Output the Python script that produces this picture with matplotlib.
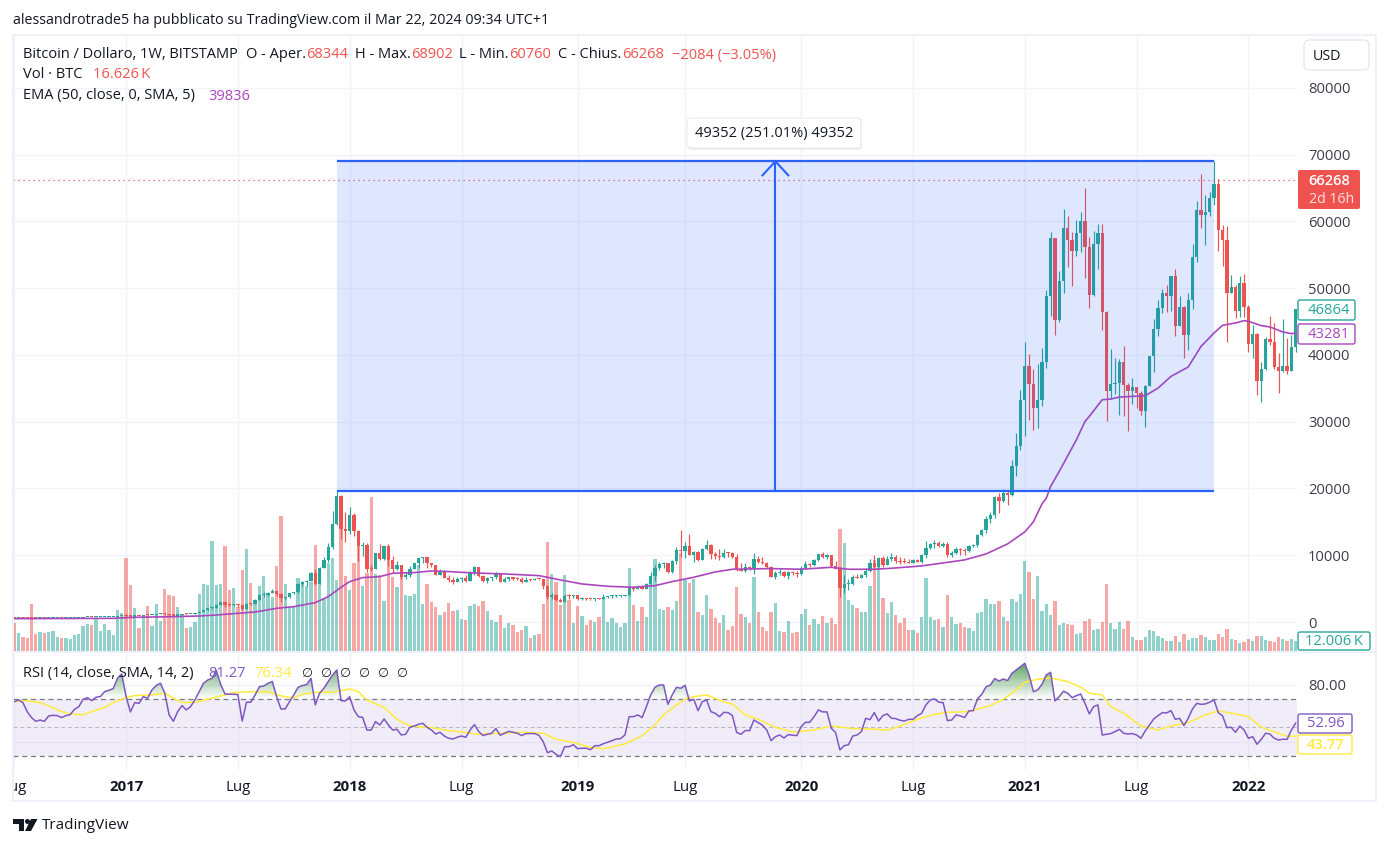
import numpy as np
import matplotlib
matplotlib.use("Agg")
import matplotlib.pyplot as plt
from matplotlib.patches import Rectangle, FancyBboxPatch, Polygon, Circle
from matplotlib.path import Path
from matplotlib.transforms import IdentityTransform, Bbox

plt.rcParams['font.family'] = ['Open Sans', 'DejaVu Sans']

W, H = 1388, 846
UP, DOWN = '#26a69a', '#ef5350'
TXT = '#131722'

# ---------- data (weekly bars) ----------
closes = [650,665,655,625,585,570,580,570,610,625,630,600,615,618,640,655,700,705,700,745,750,765,775,790,895,990,
          900,820,920,915,1010,990,1050,1190,1260,1225,1020,965,1080,1180,1175,1250,1340,1555,1770,2040,2050,2500,2960,2520,2480,2510,2500,1990,2750,2700,3370,4050,4070,4340,4600,4200,3650,3680,4370,4430,5650,6000,6100,7350,5650,8050,9300,11200,14700,18900,
          13900,13700,16000,13600,11400,11500,8000,7950,10300,9400,11400,9300,8000,8600,6700,7000,8000,8900,9600,9800,8800,8500,7100,7600,6650,6300,5950,6400,6650,6200,7550,8300,6900,6150,6550,6700,7300,6000,6500,6700,6450,6400,6000,6300,6250,6450,6400,5400,3700,4050,3300,3050,3950,3850,4050,3500,3600,3500,3450,3550,3500,3800,3850,3870,3900,3950,4050,5150,4900,5300,5000,5750,6900,8150,8700,8800,7500,9150,10800,10600,11450,10050,10500,9300,11000,11550,10200,9900,9700,10350,10300,9800,7800,7700,8200,8150,9450,9050,8800,8250,6800,7350,7550,6900,7500,7400,7250,8150,8700,8600,9300,10200,9700,10050,8400,7900,5150,5700,5750,6700,6650,7050,7600,8800,8200,9550,8550,9400,9800,9200,9000,8950,8900,9300,9050,10050,11150,11700,11900,11450,11700,10000,10300,11000,10750,10700,11400,11600,13100,13800,15500,16000,18700,18200,19400,19050,
          23400,26300,33200,38300,35700,32100,33200,38900,48800,57550,45200,51050,59100,57300,55650,58350,60050,56250,49050,56700,58350,46400,34650,35700,35800,39000,35450,34550,35250,34250,31650,35400,39900,43950,47100,49350,48800,51900,44400,47250,43050,48300,54750,61650,60950,61450,63450,65550,58700,57300,49350,50200,46650,50850,47250,41700,43200,36150,37950,42450,42000,38250,37650,38400,37650,41250,46864]

highs = [680,680,670,660,630,610,600,590,620,640,640,630,620,625,645,660,715,745,745,760,755,780,785,800,900,1000,1150,920,940,930,1030,1060,1070,1200,1290,1330,1250,1060,1100,1210,1220,1260,1350,1620,1850,2100,2300,2650,3000,2950,2800,2700,2700,2430,2900,2850,3450,4200,4450,4480,4950,4650,4280,3800,4410,4480,5880,6170,6300,7500,7880,8200,9700,11800,16600,19800,
         19050,16450,17200,16300,13800,12050,11900,8600,10400,11700,11450,11700,9900,9150,8400,7450,8400,8900,9400,9800,9750,8800,7900,7900,7800,7050,6800,6700,6800,7050,7700,8450,8300,7050,6750,6800,7450,7300,6700,6800,6700,6700,6700,6700,6450,6550,6500,6400,5600,4300,4150,3650,4200,4200,4100,4050,3800,3550,3500,3650,3600,4200,3900,4050,4050,4050,4100,5450,5450,5500,5500,5900,7450,8550,9050,8950,8850,9300,11300,13800,12000,13200,10700,10650,11150,12300,11650,10550,10950,10900,10550,10450,10150,8800,8800,8450,10350,9900,9700,9050,8450,7700,7900,7650,7700,7700,7650,8400,9150,8850,9500,10250,10500,10200,10000,9100,8200,7050,6500,7050,7150,7150,8100,9400,10050,9800,9900,9900,10300,10000,9800,9650,9450,9450,9400,10200,12200,11900,12300,12100,12000,12000,10600,11300,11050,11050,11500,11700,13200,14000,15900,16500,18900,19400,19900,19700,
         24300,28350,34800,42000,40200,37950,38700,41100,49800,58500,57550,52650,61800,60750,58500,60150,61350,64950,57750,58650,59700,59700,46600,40950,39600,39450,41400,35800,36600,35200,34650,35550,39900,45450,48300,49950,50550,51900,52950,48900,47400,49350,56700,63000,67050,63900,64350,69000,66300,59550,59400,52050,50550,51900,52200,47550,44550,43350,39000,42750,45900,44850,40350,45450,42600,43050,46950]

lows = [630,630,640,610,480,560,560,560,565,600,600,590,600,610,615,635,650,695,680,700,725,730,750,770,785,880,750,750,800,880,900,960,980,1040,1180,1000,920,890,930,1060,1110,1160,1220,1310,1550,1720,1900,2050,2480,2220,2350,2400,2300,1850,1970,2570,2700,3320,3800,3950,4300,3950,2960,3500,3620,4150,4350,5400,5400,6200,5500,5800,8100,9000,10900,14500,
        12500,12050,13200,12900,9150,9900,7550,7700,7950,9300,9300,8400,7300,7800,6400,6400,6800,7950,8100,8900,8100,8200,7050,7050,6550,6050,5700,5950,6050,5950,6150,7050,6800,6050,5800,6200,6400,5950,6050,6200,6350,6350,5900,5950,6200,6300,6300,5000,3400,3400,3200,2950,2950,3450,3550,3250,3300,3250,3300,3100,3450,3500,3650,3600,3700,3750,3850,3850,4700,4950,4900,4900,5400,6150,7800,8050,7350,7300,8700,9750,9600,10000,9050,9150,9300,10800,9500,9400,9350,9600,9800,9550,7650,7650,7550,7800,7200,8800,8650,8050,6800,6500,7050,6800,6450,7050,6800,7100,7900,8200,8400,9100,9550,9400,8300,7900,3800,4400,4800,5550,6550,6550,6700,7550,8050,8400,8200,8550,9100,8800,8700,8800,8900,8900,9000,8900,9650,10900,11100,11200,11200,9800,9800,10200,10000,10050,10500,11300,11300,12900,13300,14900,15600,16300,18000,17600,
        18900,21900,25800,27800,30300,28800,29100,32400,38100,45900,43050,45000,49350,53250,50400,54900,55500,51600,47100,48900,52950,43800,30150,33400,34200,31050,30900,28650,32700,32100,31050,29250,35300,37500,42900,46350,46500,46650,42900,44400,39600,40800,46950,54000,59100,56550,60750,62400,55650,53400,42000,49350,45600,45750,45750,40500,39600,34050,33000,37800,41550,37950,34350,37500,37200,37650,40500]

volumes_k = [33.6,21.6,16.8,15.6,56.4,20.4,22.8,21.6,22.8,24,16.8,15.6,15.6,14.4,19.2,20.4,30,32.4,31.2,39.6,24,32.4,25.2,19.2,49.2,45.6,111.6,79.2,51.6,27.6,42,54,30,56.4,36,74.4,67.2,66,52.8,43.2,27.6,28.8,34.8,68.4,80.4,79.2,132,79.2,80.4,126,73.2,75.6,53,97.2,122.4,81.6,61.2,78,90,67,65,102,162,80.4,53,53,87.6,81,78,82.8,127.2,80.4,64,105.6,111.6,85.2,157.2,90,73.2,105,133,78,93,184.8,92.4,91,60,111,89,76.8,97,67.2,66,68.4,103,56.4,80.4,58.8,52.8,
             43.2,46.8,57.6,48,49.2,38.4,37.2,54,56.4,54,60,48,37.2,34.8,43.2,27.6,33.6,31.2,22.8,25.2,30,15.6,19.2,20.4,56.4,130.8,92.4,82.8,55.2,91.2,61.2,33.6,54,42,31.2,37.2,34.8,40.8,63.6,34.8,39.6,33.6,28.8,33.6,99.6,55.2,36,52.8,40.8,87.6,110.4,50.4,49.2,52.8,49.2,60,117,85.2,81.6,86.4,46.8,43.2,67.2,50.4,39.6,33.6,43.2,25.2,30,76.8,44.4,40.8,33.6,88.8,46.8,28.8,24,46.8,57.6,24,22.8,36,21.6,22.8,44.4,50.4,31.2,38.4,32.4,42,33.6,39.6,32.4,146.4,129.6,61.2,55.2,51.6,46.8,46.4,78,109.2,100.4,
             63.6,45.6,58.8,43.2,33.6,39.6,25.2,25.2,21.6,40.8,87.6,40.8,37.2,38.4,28.8,67.2,40.8,32.4,33.6,28.8,27.6,24,45.6,46.8,62.4,56.4,56.4,60,40.8,36,62.4,58.8,68.4,108,94.8,62.4,90,48,56.4,43.2,60,31.2,33.6,32.4,31.2,20.4,21.6,36,38.4,25.2,26.4,34.8,80.4,33.6,26.4,34.8,26.4,36,16.8,13.2,13.2,16.8,25.2,24,18,15.6,12,12,18,10.8,20.4,13.2,15.6,15.6,19.2,16.8,13.2,13.2,20.4,16.8,26.4,14.4,13.2,9.6,10.8,14.4,12,18,18,13.2,12,10.8,16.8,14.4,12,14.4,12.006]

rsi = [68,69.2,67.3,61,56.8,54.2,55.1,54.2,58,58.4,58.2,56.8,58.2,58.9,62.6,64.5,69.7,70.8,68.7,71.1,71.5,75,76,77.1,84.4,87.4,71.5,60.8,67.3,66.8,71.5,70.4,76.2,79.3,80.9,73.9,58.7,54.2,61,65.2,62.2,64.5,69.2,75,80.9,83.2,84.4,89.8,80,73.4,73.2,73.2,73,54.4,67.6,67.6,72.7,78.5,79,80.9,82.1,71.5,62.9,62.9,68,72.7,78.1,79.3,80,84.4,65.7,73.9,77.4,82.1,86.7,90.2,68.7,68.5,71.5,62.2,57.5,57,48.1,48.1,54,51.6,55.9,51.6,48.1,48.6,44.6,45.1,50,50.9,52.1,52.8,50,48.1,45.3,46.5,43.9,42.3,41.8,43,
       43.9,43,48.1,51.9,47,44.2,45.1,45.8,49.1,44.4,45.8,47.2,46.5,45.8,44.2,45.6,45.6,45.6,44.4,39.9,32.2,33.4,31,29.4,36.4,36.4,37.8,35,35.3,35.3,34.3,37.1,37.1,38.5,39.5,40.6,41.8,42,44.6,57.5,57.5,58.7,56.8,64.5,72.7,78.1,79.7,79.7,66.1,72.7,78.1,77.4,79.5,68.5,69.7,61.7,68,69.2,61,59.8,57.5,60.5,60.3,58.2,46.3,45.1,47.7,47.7,55.1,53.3,51.4,48.1,40.6,43.4,44.6,42.5,44.9,44.4,44.2,50.5,53.5,53.5,57.5,62.2,60.8,60.8,49.3,46.3,34.1,37.1,37.8,43.9,44.6,47,56.3,55.4,60.3,54.4,58.2,59.4,56.3,56.1,54.9,54.4,55.6,55.6,58.2,
       59.8,65.7,69.2,69.9,67.6,67.3,54.7,55.1,58.7,58,56.8,61.5,61.7,69.9,73.2,78.5,79.7,84.2,82.5,83.9,82.8,87.9,90.2,92.6,94.9,86.7,75,76.2,80.2,86.7,88.6,68.5,71.5,75.3,73.9,70.8,72.2,73.4,66.8,59.4,64.5,65.7,44.6,45.1,45.6,47,48.6,45.8,45.3,45.6,44.6,42.3,47.4,51.6,55.9,58.2,60.3,60.1,61.7,55.6,56.3,51.2,56.3,62.9,66.8,66.1,66.4,67.6,69.2,60.3,58,49.8,50,46.5,50.9,48.1,42.3,43.4,38.1,41.6,45.8,45.3,42.3,41.1,41.6,41.6,48.1,52.96]

ema_weeks = [0,23,28,37,43,47,52,56,61,65,70,73,76,78,81,85,88,93,97,101,107,114,122,127,132,138,144,149,153,158,163,167,176,183,190,194,200,204,211,221,226,231,235,237,239,240,241,243,247,249,250,253,255,257,263,266,269,273,276,279,281,284,286,287,290,292,295,297,298]
ema_vals = [500,550,700,800,900,1050,1300,1500,2050,2300,2900,3800,5200,6050,6650,6800,7300,7400,7650,7550,7350,7200,6950,6300,5700,5350,5200,5450,6050,6700,7500,7900,8000,7900,8200,7900,7900,8050,8400,9300,10200,11700,13500,15000,17700,18550,20300,22550,27300,30050,30800,33300,33400,33700,33900,35050,36800,38200,41300,43300,44450,44800,45150,45050,44400,44200,43450,43200,43281]

rsima_weeks = [0,3,6,8,11,13,16,18,21,23,26,28,32,35,37,39,42,45,48,51,55,59,62,65,67,70,74,78,80,82,86,89,92,97,100,104,108,113,118,123,126,130,134,137,142,146,149,151,153,156,158,161,165,167,170,173,177,181,186,190,195,200,203,206,210,214,217,222,227,230,233,235,238,241,245,248,250,253,255,258,262,266,269,273,277,280,284,287,290,294,296,298]
rsima_vals = [68,68.7,67.3,65,61,59.4,58.7,61,64,67.3,71,72.2,72.7,73.9,70.4,67.3,67.6,69.7,72,74.4,75,75,72,70.6,73.2,74.6,74.6,76.9,75,69.2,64,55.6,50.9,49.8,48.1,46.7,45.1,45.8,46.5,45.8,41.6,39.5,35.8,35,38.3,44.1,51.6,58.7,63.3,70,71.5,72.7,67.8,66.4,58.7,55.6,50,46.7,48.1,50.9,49.1,48.8,47.9,50.9,55.6,59.1,60.5,61,65.2,69.7,76.2,81.6,83.7,84.7,82.1,78.1,73.9,72.7,64.5,59.8,50.9,48.1,50.9,53.3,58.7,61.5,59.4,57.5,50,45.8,43.7,43.77]

year_weeks = [0,26,52,78,104,131,156,183,209,235,261,287]
year_labels = ['Lug','2017','Lug','2018','Lug','2019','Lug','2020','Lug','2021','Lug','2022']
price_ticks = [0,10000,20000,30000,40000,50000,60000,70000,80000]
range_low, range_high = 19666, 69018
range_start, range_end = 75, 279
arrow_week = 177
last_close = 66268
rsi_mid = [30, 50, 70]

n = len(closes)
if not (n == len(highs) == len(lows) == len(volumes_k) == len(rsi) == 299 and len(ema_weeks) == len(ema_vals) and len(rsima_weeks) == len(rsima_vals)):
    raise SystemExit(f"LEN {n} {len(highs)} {len(lows)} {len(volumes_k)} {len(rsi)} {len(ema_weeks)} {len(ema_vals)} {len(rsima_weeks)} {len(rsima_vals)}")

opens = np.array([660] + closes[:-1], float)
c = np.array(closes, float)
hi = np.maximum.reduce([np.array(highs, float), c, opens])
lo = np.minimum.reduce([np.array(lows, float), c, opens])
x = np.arange(n)
colors = np.where(c >= opens, UP, DOWN)

# ---------- layout helpers ----------
fig = plt.figure(figsize=(W/100, H/100), dpi=100, facecolor='white')
def axes_px(x0, y0, x1, y1, **kw):
    return fig.add_axes([x0/W, 1-y1/H, (x1-x0)/W, (y1-y0)/H], **kw)
def ftext(px, py, s, **kw):
    kw.setdefault('fontsize', 10.5); kw.setdefault('color', TXT); kw.setdefault('va', 'center')
    return fig.text(px/W, 1-py/H, s, zorder=20, **kw)
ID = IdentityTransform()
def box(x0, y0, x1, y1, fc='white', ec='none', lw=1.0, r=2, z=15):
    p = FancyBboxPatch((x0, H-y1), x1-x0, y1-y0, boxstyle=f'round,pad=0,rounding_size={r}',
                       fc=fc, ec=ec, lw=lw, transform=ID, zorder=z)
    fig.add_artist(p); return p

GRID = '#f0f3fa'
xlim = ((13-14.3)/4.3, (1297-14.3)/4.3)
price_ylim = ((622-651)/6.675*1000, (622-35)/6.675*1000)

# grid axes (lowest layer)
ax_g = axes_px(13, 35, 1297, 651)
ax_g.set_zorder(0); ax_g.set_xlim(xlim); ax_g.set_ylim(price_ylim)
for s in ax_g.spines.values(): s.set_visible(False)
ax_g.set_xticks(year_weeks, []); ax_g.set_yticks(price_ticks, [])
ax_g.tick_params(length=0)
ax_g.grid(True, color=GRID, lw=1.0)

# volume axes
ax_v = axes_px(13, 35, 1297, 651)
ax_v.set_xlim(xlim); ax_v.set_ylim(0, 616*1.2)
ax_v.axis('off'); ax_v.set_zorder(1)
ax_v.bar(x, volumes_k, width=0.76, color=colors, alpha=0.5, linewidth=0)

# price axes
ax = axes_px(13, 35, 1297, 651)
ax.set_zorder(2); ax.patch.set_alpha(0)
ax.set_xlim(xlim)
ax.set_ylim(price_ylim)
for s in ax.spines.values(): s.set_visible(False)
ax.yaxis.tick_right()
ax.set_yticks(price_ticks, [str(t) for t in price_ticks], fontsize=10.6, color='#3a3e4a')
ax.set_xticks([])
ax.tick_params(length=0, axis='y', pad=8)

ax.vlines(x, lo, hi, colors=colors, lw=0.85, zorder=3)
ax.bar(x, np.maximum(np.abs(c-opens), 160), bottom=np.minimum(c, opens), width=0.76, color=colors, linewidth=0, zorder=4)
ax.plot(ema_weeks, ema_vals, color='#ab47bc', lw=1.2, zorder=5, solid_joinstyle='round')
ax.axhline(last_close, color=DOWN, lw=0.9, ls=(0, (1, 3)), zorder=5)

# price range tool
ax.add_patch(Rectangle((range_start, range_low), range_end-range_start, range_high-range_low,
                       fc='#2962ff', alpha=0.15, ec='none', zorder=6))
ax.plot([range_start, range_end], [range_low]*2, color='#2962ff', lw=1.6, zorder=7, solid_capstyle='butt')
ax.plot([range_start, range_end], [range_high]*2, color='#2962ff', lw=1.6, zorder=7, solid_capstyle='butt')
ax.plot([arrow_week]*2, [range_low, range_high], color='#2962ff', lw=1.5, zorder=7)
ax.plot([arrow_week-3, arrow_week, arrow_week+3], [range_high-2100, range_high, range_high-2100],
        color='#2962ff', lw=1.5, zorder=7)

# RSI axes
ar = axes_px(13, 653, 1297, 770)
ar.set_zorder(3); ar.set_facecolor('white')
ar.set_xlim(xlim)
rsi_ylim = (50-(770-727.3)/1.425, 50+(727.3-653)/1.425)
ar.set_ylim(rsi_ylim)
for s in ar.spines.values(): s.set_visible(False)
ar.set_axisbelow(True)
ar.yaxis.tick_right()
ar.set_yticks([40, 80], ['', '80.00'], fontsize=10.6, color='#3a3e4a')
ar.set_xticks(year_weeks, year_labels, fontsize=10.8)
ar.tick_params(length=0, axis='y', pad=8)
ar.tick_params(length=0, axis='x', pad=7, colors=TXT)
ar.grid(True, color=GRID, lw=1.0)
clip = Bbox([[13, 0], [W, H]])
for lab, t in zip(ar.get_xticklabels(), year_labels):
    if t.isdigit():
        lab.set_fontweight('bold')
    lab.set_clip_box(clip); lab.set_clip_on(True)
ar.axhspan(rsi_mid[0], rsi_mid[2], color='#7e57c2', alpha=0.1, lw=0, zorder=1)
ar.axhline(70, color='#787b86', lw=0.9, ls=(0, (4, 3)), zorder=2)
ar.axhline(30, color='#787b86', lw=0.9, ls=(0, (4, 3)), zorder=2)
ar.axhline(50, color='#787b86', lw=0.7, alpha=0.5, ls=(0, (4, 3)), zorder=2)
# overbought gradient
r = np.array(rsi)
grad = np.zeros((100, 2, 4))
grad[..., :3] = matplotlib.colors.to_rgb('#388e3c')
grad[..., 3] = np.linspace(0.85, 0.0, 100)[:, None]
poly_fill = ar.fill_between(x, 70, r, where=r > 70, interpolate=True, color='none', lw=0)
im = ar.imshow(grad, extent=[xlim[0], xlim[1], 70, 96], aspect='auto', zorder=2.5, interpolation='bilinear')
ar.set_xlim(xlim); ar.set_ylim(rsi_ylim)
verts, codes = [], []
for p in poly_fill.get_paths():
    verts.extend(p.vertices.tolist()); codes.extend(p.codes.tolist())
im.set_clip_path(Path(verts, codes), transform=ar.transData)
ar.plot(rsima_weeks, rsima_vals, color='#ffeb3b', lw=1.1, zorder=3)
ar.plot(x, rsi, color='#7e57c2', lw=1.1, zorder=4)

# ---------- frame ----------
fc = '#eef1f8'
for rect in [(12, H-802, 1365, 2), (12, H-36, 1365, 2), (12, H-802, 2, 768), (1375, H-802, 2, 768), (12, H-653, 1365, 2)]:
    fig.add_artist(Rectangle(rect[:2], rect[2], rect[3], fc=fc, ec='none', transform=ID, zorder=14))

# ---------- header texts ----------
ftext(13, 20, 'alessandrotrade5 ha pubblicato su TradingView.com il Mar 22, 2024 09:34 UTC+1', fontsize=10.3)
for px_, s, col in [(23, 'Bitcoin / Dollaro, 1W, BITSTAMP', TXT), (246, 'O - Aper.', TXT), (306, '68344', DOWN),
                    (355, 'H - Max.', TXT), (411, '68902', DOWN), (459, 'L - Min.', TXT), (509, '60760', DOWN),
                    (558, 'C - Chius.', TXT), (622, '66268', DOWN), (672, '\u22122084 (\u22123.05%)', DOWN)]:
    ftext(px_, 55, s, color=col)
ftext(23, 75, 'Vol \u00b7 BTC'); ftext(93, 75, '16.626\u2009K', color=DOWN)
ftext(23, 96, 'EMA (50, close, 0, SMA, 5)'); ftext(208, 96, '39836', color='#ab47bc')
ftext(23, 673, 'RSI (14, close, SMA, 14, 2)')
ftext(208, 673, '81.27', color='#7e57c2'); ftext(254, 673, '76.34', color='#ffeb3b')
for px_ in [301, 320, 339, 358, 377, 396]:
    ftext(px_, 673, '\u2205', family='DejaVu Sans', fontsize=9)

# range label
box(688, 119, 862, 150, fc='#00000010', ec='none', r=4, z=15)
box(687, 118, 861, 148, fc='white', ec='#e6e8ef', lw=0.7, r=4, z=16)
ftext(774, 134, '49352 (251.01%) 49352', ha='center')

# right-hand labels
box(1304, 40, 1369, 70, fc='white', ec='#e0e3eb', lw=0.8, r=5)
ftext(1327, 56, 'USD', ha='center', fontsize=10.3)
box(1298, 170, 1360, 209, fc=DOWN, r=2)
ftext(1329, 181, '66268', ha='center', color='white', fontsize=10.6, fontweight='semibold')
ftext(1332, 199, '2d 16h', ha='center', color='#fde0df', fontsize=10.2)
box(1298, 300, 1355, 320, ec=UP, lw=1.0)
ftext(1329, 310, '46864', ha='center', color=UP, fontsize=10.6)
box(1298, 324, 1355, 344, ec='#ab47bc', lw=1.0)
ftext(1329, 334, '43281', ha='center', color='#ab47bc', fontsize=10.6)
box(1298, 632, 1370, 650, ec=UP, lw=1.0)
ftext(1334, 641, '12.006\u2009K', ha='center', color=UP, fontsize=10.6)
box(1298, 714, 1352, 733, ec='#7e57c2', lw=1.0)
ftext(1326, 723.5, '52.96', ha='center', color='#7e57c2', fontsize=10.6)
box(1298, 735, 1352, 754, ec='#ffeb3b', lw=1.0)
ftext(1326, 745, '43.77', ha='center', color='#ffeb3b', fontsize=10.6, fontweight='semibold')

# logo
fig.add_artist(Polygon([(13, H-819), (24, H-819), (24, H-831), (19, H-831), (19, H-824), (13, H-824)], fc=TXT, ec='none', transform=ID, zorder=20))
fig.add_artist(Circle((27.5, H-821.5), 2.5, fc=TXT, ec='none', transform=ID, zorder=20))
fig.add_artist(Polygon([(31, H-819), (37.5, H-819), (31, H-831), (25, H-831)], fc=TXT, ec='none', transform=ID, zorder=20))
ftext(42, 825, 'TradingView', fontsize=11, fontweight='medium')

fig.savefig('out.png', dpi=100)
